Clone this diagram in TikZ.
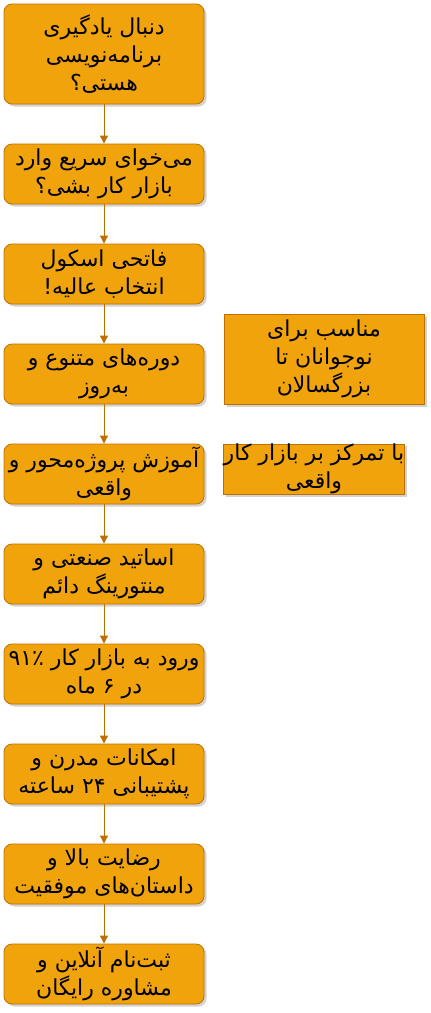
\documentclass[tikz,border=0pt]{standalone}
\usepackage{fontspec}
\usepackage{tikz}
\usetikzlibrary{arrows.meta,shadows}
\newfontfamily\farsi[Script=Arabic]{DejaVu Sans}
\TeXXeTstate=1
\def\rl#1{\beginR#1\endR}
\definecolor{arancio}{HTML}{F0A30A}
\definecolor{bordo}{HTML}{BD7000}
\tikzset{
  passo/.style={draw=bordo,fill=arancio,rounded corners=8pt,line width=0.8pt,
    minimum width=200pt,align=center,font=\farsi\fontsize{22}{28}\selectfont,
    inner sep=0pt,drop shadow={opacity=0.35,shadow xshift=2.5pt,shadow yshift=-2.5pt}},
  nota/.style={passo,rounded corners=0pt},
  freccia/.style={draw=bordo,line width=0.8pt,-{Triangle[length=8pt,width=8pt]}}
}

\begin{document}
\begin{tikzpicture}[x=1pt,y=-1pt]
   \useasboundingbox (0,0) rectangle (431,1013);
% colonna dei passi
   \node[passo,minimum height=100pt] (k1) at (104,54)
   {\rl{دنبال یادگیری}\\\rl{برنامه‌نویسی}\\\rl{هستی؟}};
   \node[passo,minimum height=60pt] (k2) at (104,174)
   {\rl{می‌خوای سریع وارد}\\\rl{بازار کار بشی؟}};
   \node[passo,minimum height=60pt] (k3) at (104,274)
   {\rl{فاتحی اسکول}\\\rl{انتخاب عالیه!}};
   \node[passo,minimum height=60pt] (k4) at (104,374)
   {\rl{دوره‌های متنوع و}\\\rl{به‌روز}};
   \node[passo,minimum height=60pt] (k5) at (104,474)
   {\rl{آموزش پروژه‌محور و}\\\rl{واقعی}};
   \node[passo,minimum height=60pt] (k6) at (104,574)
   {\rl{اساتید صنعتی و}\\\rl{منتورینگ دائم}};
   \node[passo,minimum height=60pt] (k7) at (104,674)
   {\rl{ورود به بازار کار ۹۱٪}\\\rl{در ۶ ماه}};
   \node[passo,minimum height=60pt] (k8) at (104,774)
   {\rl{امکانات مدرن و}\\\rl{پشتیبانی ۲۴ ساعته}};
   \node[passo,minimum height=60pt] (k9) at (104,874)
   {\rl{رضایت بالا و}\\\rl{داستان‌های موفقیت}};
   \node[passo,minimum height=60pt] (k10) at (104,974)
   {\rl{ثبت‌نام آنلاین و}\\\rl{مشاوره رایگان}};
% note a destra
   \node[nota,minimum height=90pt] (n1) at (324,359)
   {\rl{مناسب برای}\\\rl{نوجوانان تا}\\\rl{بزرگسالان}};
   \node[nota,minimum width=180pt,minimum height=50pt] (n2) at (314,469)
   {\rl{با تمرکز بر بازار کار}\\\rl{واقعی}};
% frecce
   \foreach \a/\b in {k1/k2,k2/k3,k3/k4,k4/k5,k5/k6,k6/k7,k7/k8,k8/k9,k9/k10}
      \draw[freccia] (\a) -- (\b);
\end{tikzpicture}
\end{document}
